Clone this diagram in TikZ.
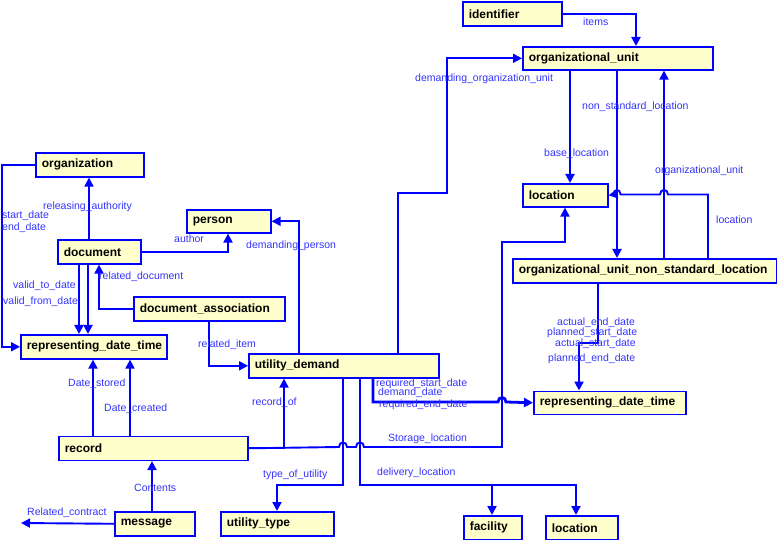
\documentclass[tikz,border=0pt]{standalone}
\usepackage{fontspec}
\setmainfont{Liberation Sans}
\usetikzlibrary{arrows.meta}
\definecolor{boxfill}{RGB}{255,255,204}
\definecolor{lnk}{RGB}{0,0,255}
\definecolor{lbl}{RGB}{51,51,255}
\begin{document}
\begin{tikzpicture}[x=1pt,y=-1pt,
  ent/.style={draw=lnk, line width=1.6pt, fill=boxfill, anchor=north west, inner xsep=6pt, inner ysep=0pt, minimum height=24pt, align=left, font=\fontsize{12}{14}\selectfont\bfseries},
  rel/.style={draw=lnk, line width=1.9pt, -{Triangle[length=9pt,width=9pt]}},
  relthick/.style={rel, line width=2.8pt},
  lab/.style={anchor=west, inner sep=0pt, text=lbl, font=\fontsize{10.5}{12}\selectfont},
]
\useasboundingbox (0,0) rectangle (777,540);

% entities
\node[ent, minimum width=108pt, text width=96pt] (org) at (35,152) {organization};
\node[ent, minimum width=84pt, text width=72pt, minimum height=23pt] (person) at (186,209) {person};
\node[ent, minimum width=83pt, text width=71pt] (doc) at (57,239) {document};
\node[ent, minimum width=151pt, text width=139pt] (da) at (133,296) {document\_association};
\node[ent, minimum width=146pt, text width=134pt] (rdtL) at (20,334) {representing\_date\_time};
\node[ent, minimum width=190pt, text width=178pt] (ud) at (248,353) {utility\_demand};
\node[ent, minimum width=189pt, text width=177pt] (rec) at (58,435.5) {record};
\node[ent, minimum width=80pt, text width=68pt] (msg) at (114,511) {message};
\node[ent, minimum width=113pt, text width=101pt] (ut) at (220,511) {utility\_type};
\node[ent, minimum width=58pt, text width=46pt] (fac) at (463,515) {facility};
\node[ent, minimum width=72pt, text width=60pt] (locB) at (545,515) {location};
\node[ent, minimum width=152pt, text width=140pt, minimum height=23pt] (rdtR) at (533,390.5) {representing\_date\_time};
\node[ent, minimum width=99pt, text width=87pt] (ident) at (462,1) {identifier};
\node[ent, minimum width=190pt, text width=178pt, minimum height=23pt] (ou) at (522,46) {organizational\_unit};
\node[ent, minimum width=85pt, text width=73pt, minimum height=23pt] (locT) at (522,183) {location};
\node[ent, minimum width=264pt, text width=252pt] (ounsl) at (512,258) {organizational\_unit\_non\_standard\_location};

\coordinate (rc) at (21,523);

% connectors
\draw[rel] (org.west) -- (org.west -| 2,0) |- (rdtL.west);
\draw[rel] (89,0 |- doc.north) -- (89,0 |- org.south);
\draw[rel] (doc.east) -| (228,0 |- person.south);
\draw[rel] (79,0 |- doc.south) -- (79,0 |- rdtL.north);
\draw[rel] (88,0 |- doc.south) -- (88,0 |- rdtL.north);
\draw[rel] (da.west) -| (99,0 |- doc.south);
\draw[rel] (209,0 |- da.south) |- (ud.west);
\draw[rel] (299,0 |- ud.north) |- (person.east);
\draw[rel] (398,0 |- ud.north) -- (398,193) -- (447,193) |- (ou.west);
\draw[rel] (ident.east) -| (636,0 |- ou.north);
\draw[rel] (570,0 |- ou.south) -- (570,0 |- locT.north);
\draw[rel] (617,0 |- ou.south) -- (617,0 |- ounsl.north);
\draw[rel] (664,0 |- ounsl.north) -- (664,0 |- ou.south);
\draw[rel] (708,0 |- ounsl.north) -- (708,194.5) -- (668,194.5)
  .. controls (668,188.5) and (660,188.5) .. (660,194.5) -- (620.5,194.5)
  .. controls (620.5,188.5) and (613.5,188.5) .. (613.5,194.5) -- (locT.east);
\draw[relthick] (598,0 |- ounsl.south) -- (598,343) -- (579,343) -- (579,0 |- rdtR.north);

\draw[rel] (rec.east) -- (339,447)
  .. controls (339,441) and (347,441) .. (347,447) -- (356,447)
  .. controls (356,441) and (364,441) .. (364,447) -- (502,447) -- (502,242) -- (565,242) -- (565,0 |- locT.south);
\draw[rel] (rec.east) -| (284,0 |- ud.south);
\draw[rel] (93,0 |- rec.north) -- (93,0 |- rdtL.south);
\draw[rel] (130,0 |- rec.north) -- (130,0 |- rdtL.south);
\draw[rel] (152,0 |- msg.north) -- (152,0 |- rec.south);
\draw[rel] (msg.west) -- (rc);
\draw[rel] (343,0 |- ud.south) -- (343,485) -- (277,485) -- (277,0 |- ut.north);
\draw[rel] (360,0 |- ud.south) -- (360,485) -- (492,485) -- (492,0 |- fac.north);
\draw[rel] (360,0 |- ud.south) -- (360,485) -- (576,485) -- (576,0 |- locB.north);
\draw[relthick] (373,0 |- ud.south) -- (373,402) -- (498,402)
  .. controls (498,396) and (506,396) .. (506,402) -- (rdtR.west);

% labels
\node[lab] at (2,216) {start\_date};
\node[lab] at (2,228) {end\_date};
\node[lab] at (43,207) {releasing\_authority};
\node[lab] at (174,239) {author};
\node[lab] at (13,286) {valid\_to\_date};
\node[lab] at (3,302) {valid\_from\_date};
\node[lab] at (99,277) {related\_document};
\node[lab] at (198,345) {related\_item};
\node[lab] at (246,246) {demanding\_person};
\node[lab] at (68,384) {Date\_stored};
\node[lab] at (104,409) {Date\_created};
\node[lab] at (252,403) {record\_of};
\node[lab] at (134,488) {Contents};
\node[lab] at (27,513) {Related\_contract};
\node[lab] at (263,475) {type\_of\_utility};
\node[lab] at (376,384) {required\_start\_date};
\node[lab] at (378,393) {demand\_date};
\node[lab] at (379,405) {required\_end\_date};
\node[lab] at (388,439) {Storage\_location};
\node[lab] at (377,473) {delivery\_location};
\node[lab] at (583,22) {items};
\node[lab] at (415,79) {demanding\_organization\_unit};
\node[lab] at (582,107) {non\_standard\_location};
\node[lab] at (544,154) {base\_location};
\node[lab] at (655,171) {organizational\_unit};
\node[lab] at (716,220) {location};
\node[lab] at (557,323) {actual\_end\_date};
\node[lab] at (547,333) {planned\_start\_date};
\node[lab] at (555,344) {actual\_start\_date};
\node[lab] at (548,359) {planned\_end\_date};
\end{tikzpicture}
\end{document}
